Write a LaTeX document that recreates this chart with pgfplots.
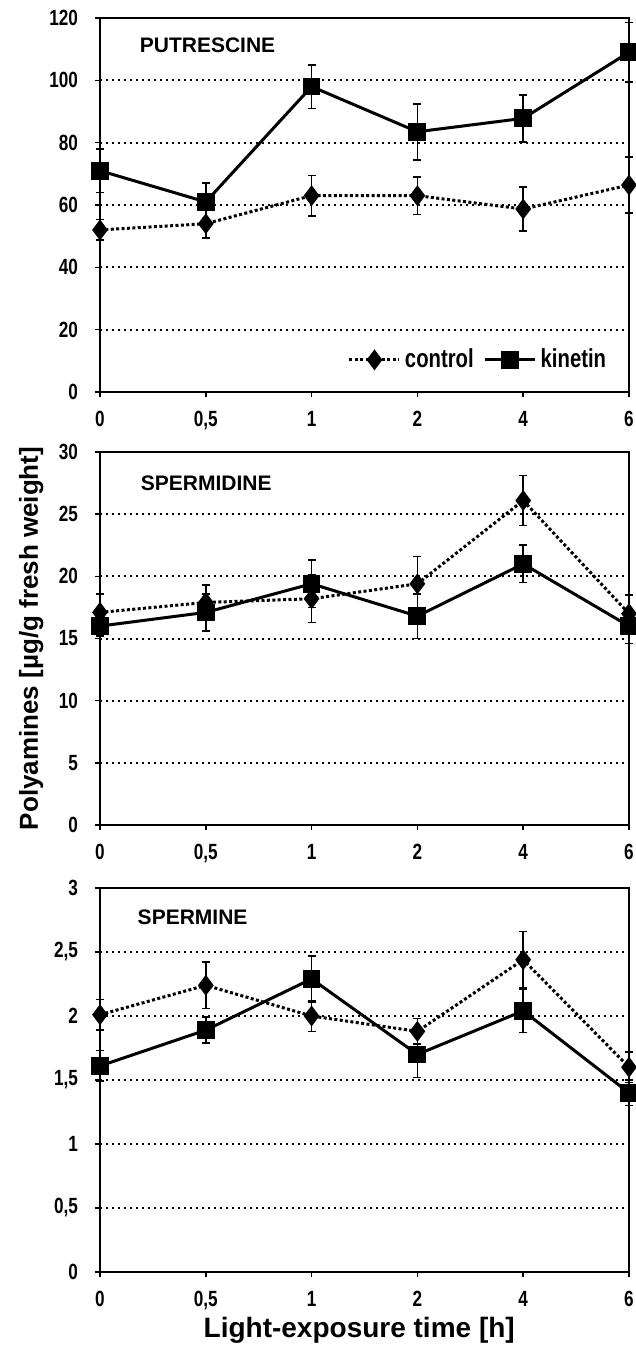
\documentclass[border=0pt]{standalone}
\usepackage{fontspec}
\setmainfont{Liberation Sans}
\newfontfamily\narrowfont[FakeStretch=0.78]{Liberation Sans}
\usepackage{pgfplots}
\pgfplotsset{compat=1.18}
\pgfplotsset{
 panel/.style={
  scale only axis, width=264.5pt,
  xmin=0, xmax=5, xtick={0,...,5}, xticklabels={0,{0,5},1,2,4,6},
  tick align=outside, xtick pos=bottom, ytick pos=left,
  major tick length=2.5pt,
  tick style={black, line width=0.8pt},
  axis line style={black, line width=1.2pt},
  ymajorgrids, major grid style={black, line width=1pt, dash pattern=on 1pt off 2pt},
  tick label style={font=\narrowfont\bfseries\fontsize{11}{12}\selectfont},
  yticklabel style={xshift=-5pt},
  xticklabel style={yshift=-3.5pt},
  /pgf/number format/assume math mode=true,
  /pgf/number format/use comma,
  clip=false,
 },
 ctrl/.style={black, line width=1.5pt, dash pattern=on 1.5pt off 1.2pt, mark=diamond*, mark size=4pt, mark options={solid}},
 kin/.style={black, line width=1.5pt, solid, mark=square*, mark size=3.7pt, mark options={solid}},
 eb/.style={error bars/.cd, y dir=both, y explicit, error bar style={solid, line width=0.8pt}, error mark options={rotate=90, mark size=2pt, line width=0.8pt, solid}},
}
\tikzset{lab/.style={anchor=west, font=\bfseries\fontsize{10.5}{12}\selectfont}}
\begin{document}
\begin{tikzpicture}
\path[use as bounding box] (0,0) rectangle (318pt,-675.5pt);
% Panel 1
\begin{axis}[panel, at={(50pt,-9pt)}, anchor=north west, height=187pt,
  ymin=0, ymax=120, ytick={0,20,...,120},
  legend style={at={(0.965,0.086)}, anchor=east, draw=none, fill=none, legend columns=2,
    font=\narrowfont\bfseries\fontsize{13}{14}\selectfont, inner sep=0pt,
    /tikz/every even column/.append style={column sep=3pt}},
  legend image code/.code={\draw[mark repeat=2, mark phase=2, #1] plot coordinates {(0pt,0pt) (12.5pt,0pt) (25pt,0pt)};},
]
\addplot[ctrl, eb] coordinates {(0,52) +- (0,3.3) (1,54) +- (0,4.6) (2,63) +- (0,6.5) (3,63) +- (0,6) (4,58.7) +- (0,7) (5,66.4) +- (0,9)};
\addlegendentry{control}
\addplot[kin, eb] coordinates {(0,71) +- (0,7) (1,61) +- (0,6) (2,98) +- (0,7) (3,83.5) +- (0,9) (4,87.8) +- (0,7.5) (5,109) +- (0,9.5)};
\addlegendentry{kinetin}
\node[lab] at (rel axis cs:0.062,0.928) {PUTRESCINE};
\end{axis}
% Panel 2
\begin{axis}[panel, at={(50pt,-226pt)}, anchor=north west, height=186.5pt,
  ymin=0, ymax=30, ytick={0,5,...,30},
  ylabel={Polyamines [µg/g fresh weight]},
  every axis y label/.style={at={(rel axis cs:-0.13,0.5)}, rotate=90, anchor=center, font=\bfseries\fontsize{13}{15}\selectfont},
]
\addplot[ctrl, eb] coordinates {(0,17.1) +- (0,1.5) (1,17.9) +- (0,1.4) (2,18.2) +- (0,1.9) (3,19.4) +- (0,2.2) (4,26.1) +- (0,2.0) (5,17.0) +- (0,1.5)};
\addplot[kin, eb] coordinates {(0,16.0) +- (0,0.8) (1,17.1) +- (0,1.5) (2,19.4) +- (0,1.9) (3,16.8) +- (0,1.8) (4,21.0) +- (0,1.5) (5,16.0) +- (0,1.4)};
\node[lab] at (rel axis cs:0.064,0.917) {SPERMIDINE};
\end{axis}
% Panel 3
\begin{axis}[panel, at={(50pt,-444pt)}, anchor=north west, height=192pt,
  ymin=0, ymax=3, ytick={0,0.5,...,3},
  xlabel={Light-exposure time [h]},
  every axis x label/.style={at={(rel axis cs:0.49,0)}, yshift=-29pt, anchor=center, font=\bfseries\fontsize{14}{16}\selectfont},
]
\addplot[ctrl, eb] coordinates {(0,2.01) +- (0,0.12) (1,2.24) +- (0,0.18) (2,2.0) +- (0,0.12) (3,1.88) +- (0,0.1) (4,2.44) +- (0,0.22) (5,1.60) +- (0,0.12)};
\addplot[kin, eb] coordinates {(0,1.61) +- (0,0.12) (1,1.89) +- (0,0.1) (2,2.29) +- (0,0.18) (3,1.70) +- (0,0.18) (4,2.04) +- (0,0.17) (5,1.40) +- (0,0.1)};
\node[lab] at (rel axis cs:0.058,0.924) {SPERMINE};
\end{axis}
\end{tikzpicture}
\end{document}
